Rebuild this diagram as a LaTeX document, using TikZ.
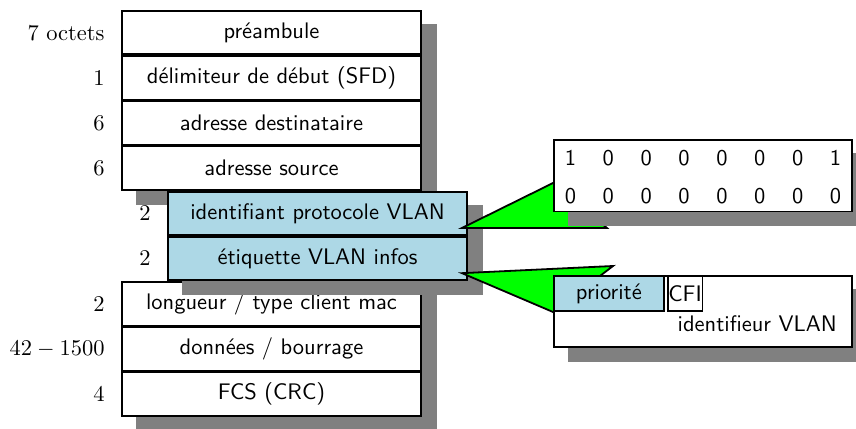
\documentclass[tikz,border=0pt]{standalone}
\usetikzlibrary{positioning,shadows}

\definecolor{tagblue}{RGB}{173,216,230}
\definecolor{calloutgreen}{RGB}{0,255,0}

\tikzset{
  field/.style={draw, thick, fill=white, minimum width=4.675cm, minimum height=0.678cm,
    inner sep=0pt, font=\sffamily,
    drop shadow={shadow xshift=0.234cm, shadow yshift=-0.219cm, fill=gray, draw=gray, opacity=1}},
  tagfield/.style={field, fill=tagblue},
  detail/.style={field, minimum width=4.66cm, minimum height=1.12cm},
  subfield/.style={draw, thick, minimum height=0.558cm, font=\sffamily},
  octets/.style={inner sep=0pt},
  pointer/.style={draw, thick, fill=calloutgreen},
}

\begin{document}
\begin{tikzpicture}
    \useasboundingbox (0,0) rectangle (13.375,-6.6875);

    % Define the fields of the ethernet frame
    \node[field] (pre) at (4.242,-0.510) {préambule};
    \node[field] (sfd) at (4.242,-1.216) {délimiteur de début (SFD)};
    \node[field] (dst) at (4.242,-1.922) {adresse destinataire};
    \node[field] (src) at (4.242,-2.628) {adresse source};
    \node[field] (len) at (4.242,-4.746) {longueur / type client mac};
    \node[field] (data) at (4.242,-5.452) {données / bourrage};
    \node[field] (fcs) at (4.242,-6.158) {FCS (CRC)};

    % The inserted VLAN tag
    \node[tagfield] (tpid) at (4.961,-3.334) {identifiant protocole VLAN};
    \node[tagfield] (tci) at (4.961,-4.040) {étiquette VLAN infos};

    % Sizes in octets
    \node[octets, left=0.25cm of pre] (pre-n) {7 octets};
    \node[octets, left=0.25cm of sfd] (sfd-n) {$1$};
    \node[octets, left=0.25cm of dst] (dst-n) {$6$};
    \node[octets, left=0.25cm of src] (src-n) {$6$};
    \node[octets, left=0.25cm of tpid] (tpid-n) {$2$};
    \node[octets, left=0.25cm of tci] (tci-n) {$2$};
    \node[octets, left=0.25cm of len] (len-n) {$2$};
    \node[octets, left=0.25cm of data] (data-n) {$42-1500$};
    \node[octets, left=0.25cm of fcs] (fcs-n) {$4$};

    % Pointers to the details
    \coordinate (tpid-tip) at ([xshift=-0.094cm, yshift=-0.228cm]tpid.east);
    \coordinate (tci-tip) at ([xshift=-0.094cm, yshift=-0.228cm]tci.east);
    \filldraw[pointer] (tpid-tip) -- (8.641,-2.859) -- (9.484,-3.5625) -- cycle;
    \filldraw[pointer] (tci-tip) -- (9.578,-4.156) -- (8.641,-4.875) -- cycle;

    % Details of the tag
    \node[detail] (tpid-bits) at (10.984,-2.745) {};
    \node[font=\sffamily, inner sep=0pt] (tpid-val) at ([yshift=-0.05cm]tpid-bits.center)
      {\setlength{\tabcolsep}{5.92pt}\begin{tabular}{@{}*{8}{c}@{}}
        1 & 0 & 0 & 0 & 0 & 0 & 0 & 1 \\[4.9pt]
        0 & 0 & 0 & 0 & 0 & 0 & 0 & 0
      \end{tabular}};

    \node[detail] (tci-info) at (10.984,-4.867) {};
    \node[subfield, fill=tagblue, minimum width=1.72cm, anchor=north west] (prio) at (tci-info.north west) {priorité};
    \node[subfield, fill=white, inner sep=0.3pt, right=0.03cm of prio] (cfi) {CFI};
    \node[font=\sffamily, anchor=east] (vid) at ([xshift=-0.13cm, yshift=0.39cm]tci-info.south east) {identifieur VLAN};
\end{tikzpicture}
\end{document}
